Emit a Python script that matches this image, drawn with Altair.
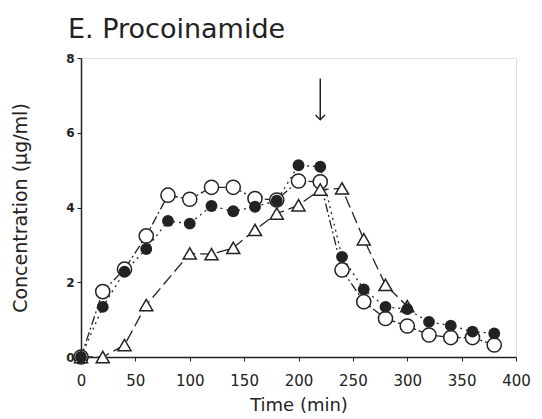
import altair as alt
import pandas as pd

times = [0, 20, 40, 60, 80, 100, 120, 140, 160, 180, 200, 220, 240, 260, 280, 300, 320, 340, 360, 380]
open_vals = [0, 1.75, 2.35, 3.24, 4.33, 4.22, 4.54, 4.54, 4.24, 4.2, 4.71, 4.69, 2.33, 1.48, 1.03, 0.83, 0.59, 0.52, 0.52, 0.32]
filled_vals = [0, 1.34, 2.28, 2.89, 3.64, 3.57, 4.04, 3.90, 4.02, 4.18, 5.13, 5.09, 2.68, 1.81, 1.34, 1.28, 0.94, 0.84, 0.68, 0.63]
tri_times = [0, 20, 40, 60, 100, 120, 140, 160, 180, 200, 220, 240, 260, 280, 300]
tri_vals = [0, 0, 0.32, 1.39, 2.77, 2.75, 2.92, 3.40, 3.84, 4.06, 4.48, 4.51, 3.15, 1.93, 1.36]
arrow_time = [220]
arrow_top = [7.45]
arrow_tip = [6.35]

INK = "#222222"
FONT = "DejaVu Sans"

df_open = pd.DataFrame({"t": times, "v": open_vals})
df_fill = pd.DataFrame({"t": times, "v": filled_vals})
df_tri = pd.DataFrame({"t": tri_times, "v": tri_vals})
df_arrow = pd.DataFrame({"t": arrow_time, "top": arrow_top, "tip": arrow_tip})

xs = alt.Scale(domain=[0, 400], nice=False)
ys = alt.Scale(domain=[0, 8], nice=False)

X = alt.X("t:Q", scale=xs, axis=alt.Axis(
    values=[0, 50, 100, 150, 200, 250, 300, 350, 400], title="Time (min)",
    titleFontSize=18, titleFont=FONT, titleFontWeight="normal", titleColor=INK, titlePadding=8,
    labelFontSize=15, labelFont=FONT, labelColor=INK, labelPadding=12, labelFlush=False,
    tickSize=4, tickColor=INK, domainColor=INK, domainWidth=1.5, grid=False))
Y = alt.Y("v:Q", scale=ys, axis=alt.Axis(
    values=[0, 2, 4, 6, 8], title="Concentration (μg/ml)",
    titleFontSize=19, titleFont=FONT, titleFontWeight="normal", titleColor=INK, titlePadding=35,
    labelFontSize=12, labelFont=FONT, labelFontWeight="bold", labelColor=INK, labelPadding=3,
    labelFlush=False,
    tickSize=4, tickColor=INK, domainColor=INK, domainWidth=1.5, grid=False))

line_open = alt.Chart(df_open).mark_line(color=INK, strokeWidth=1.3, strokeDash=[9, 3, 2, 3]).encode(x=X, y=Y)
line_fill = alt.Chart(df_fill).mark_line(color=INK, strokeWidth=1.3, strokeDash=[2, 4]).encode(x=X, y=Y)
line_tri = alt.Chart(df_tri).mark_line(color=INK, strokeWidth=1.3, strokeDash=[12, 5]).encode(x=X, y=Y)

pt_open = alt.Chart(df_open).mark_point(shape="circle", size=200, filled=True, fill="white",
                                        stroke=INK, strokeWidth=1.5, opacity=1).encode(x=X, y=Y)
pt_tri = alt.Chart(df_tri).mark_point(shape="triangle-up", size=170, filled=True, fill="white",
                                      stroke=INK, strokeWidth=1.5, opacity=1).encode(x=X, y=Y)
pt_fill = alt.Chart(df_fill).mark_point(shape="circle", size=140, filled=True, color=INK,
                                        opacity=1).encode(x=X, y=Y)

arrow_line = alt.Chart(df_arrow).mark_rule(color=INK, strokeWidth=1.5).encode(
    x=alt.X("t:Q", scale=xs), y=alt.Y("top:Q", scale=ys), y2="tip:Q")
arrow_head = alt.Chart(df_arrow).mark_point(shape="M-1,-1L0,0L1,-1", size=90, filled=False,
                                            stroke=INK, strokeWidth=1.5, opacity=1).encode(
    x=alt.X("t:Q", scale=xs), y=alt.Y("tip:Q", scale=ys))

chart = alt.layer(line_open, line_fill, line_tri, pt_open, pt_tri, pt_fill, arrow_line, arrow_head).properties(
    width=435, height=299,
    title=alt.TitleParams("E. Procoinamide", anchor="start", frame="group", fontSize=27, font=FONT,
                          fontWeight="normal", color=INK, dx=-13, offset=8),
    autosize=alt.AutoSizeParams(type="none"),
    padding={"left": 81, "top": 58, "right": 26, "bottom": 62},
).configure_view(stroke=None).configure(background="white")

chart.save("out.html", embed_options={"renderer": "svg", "actions": False})
